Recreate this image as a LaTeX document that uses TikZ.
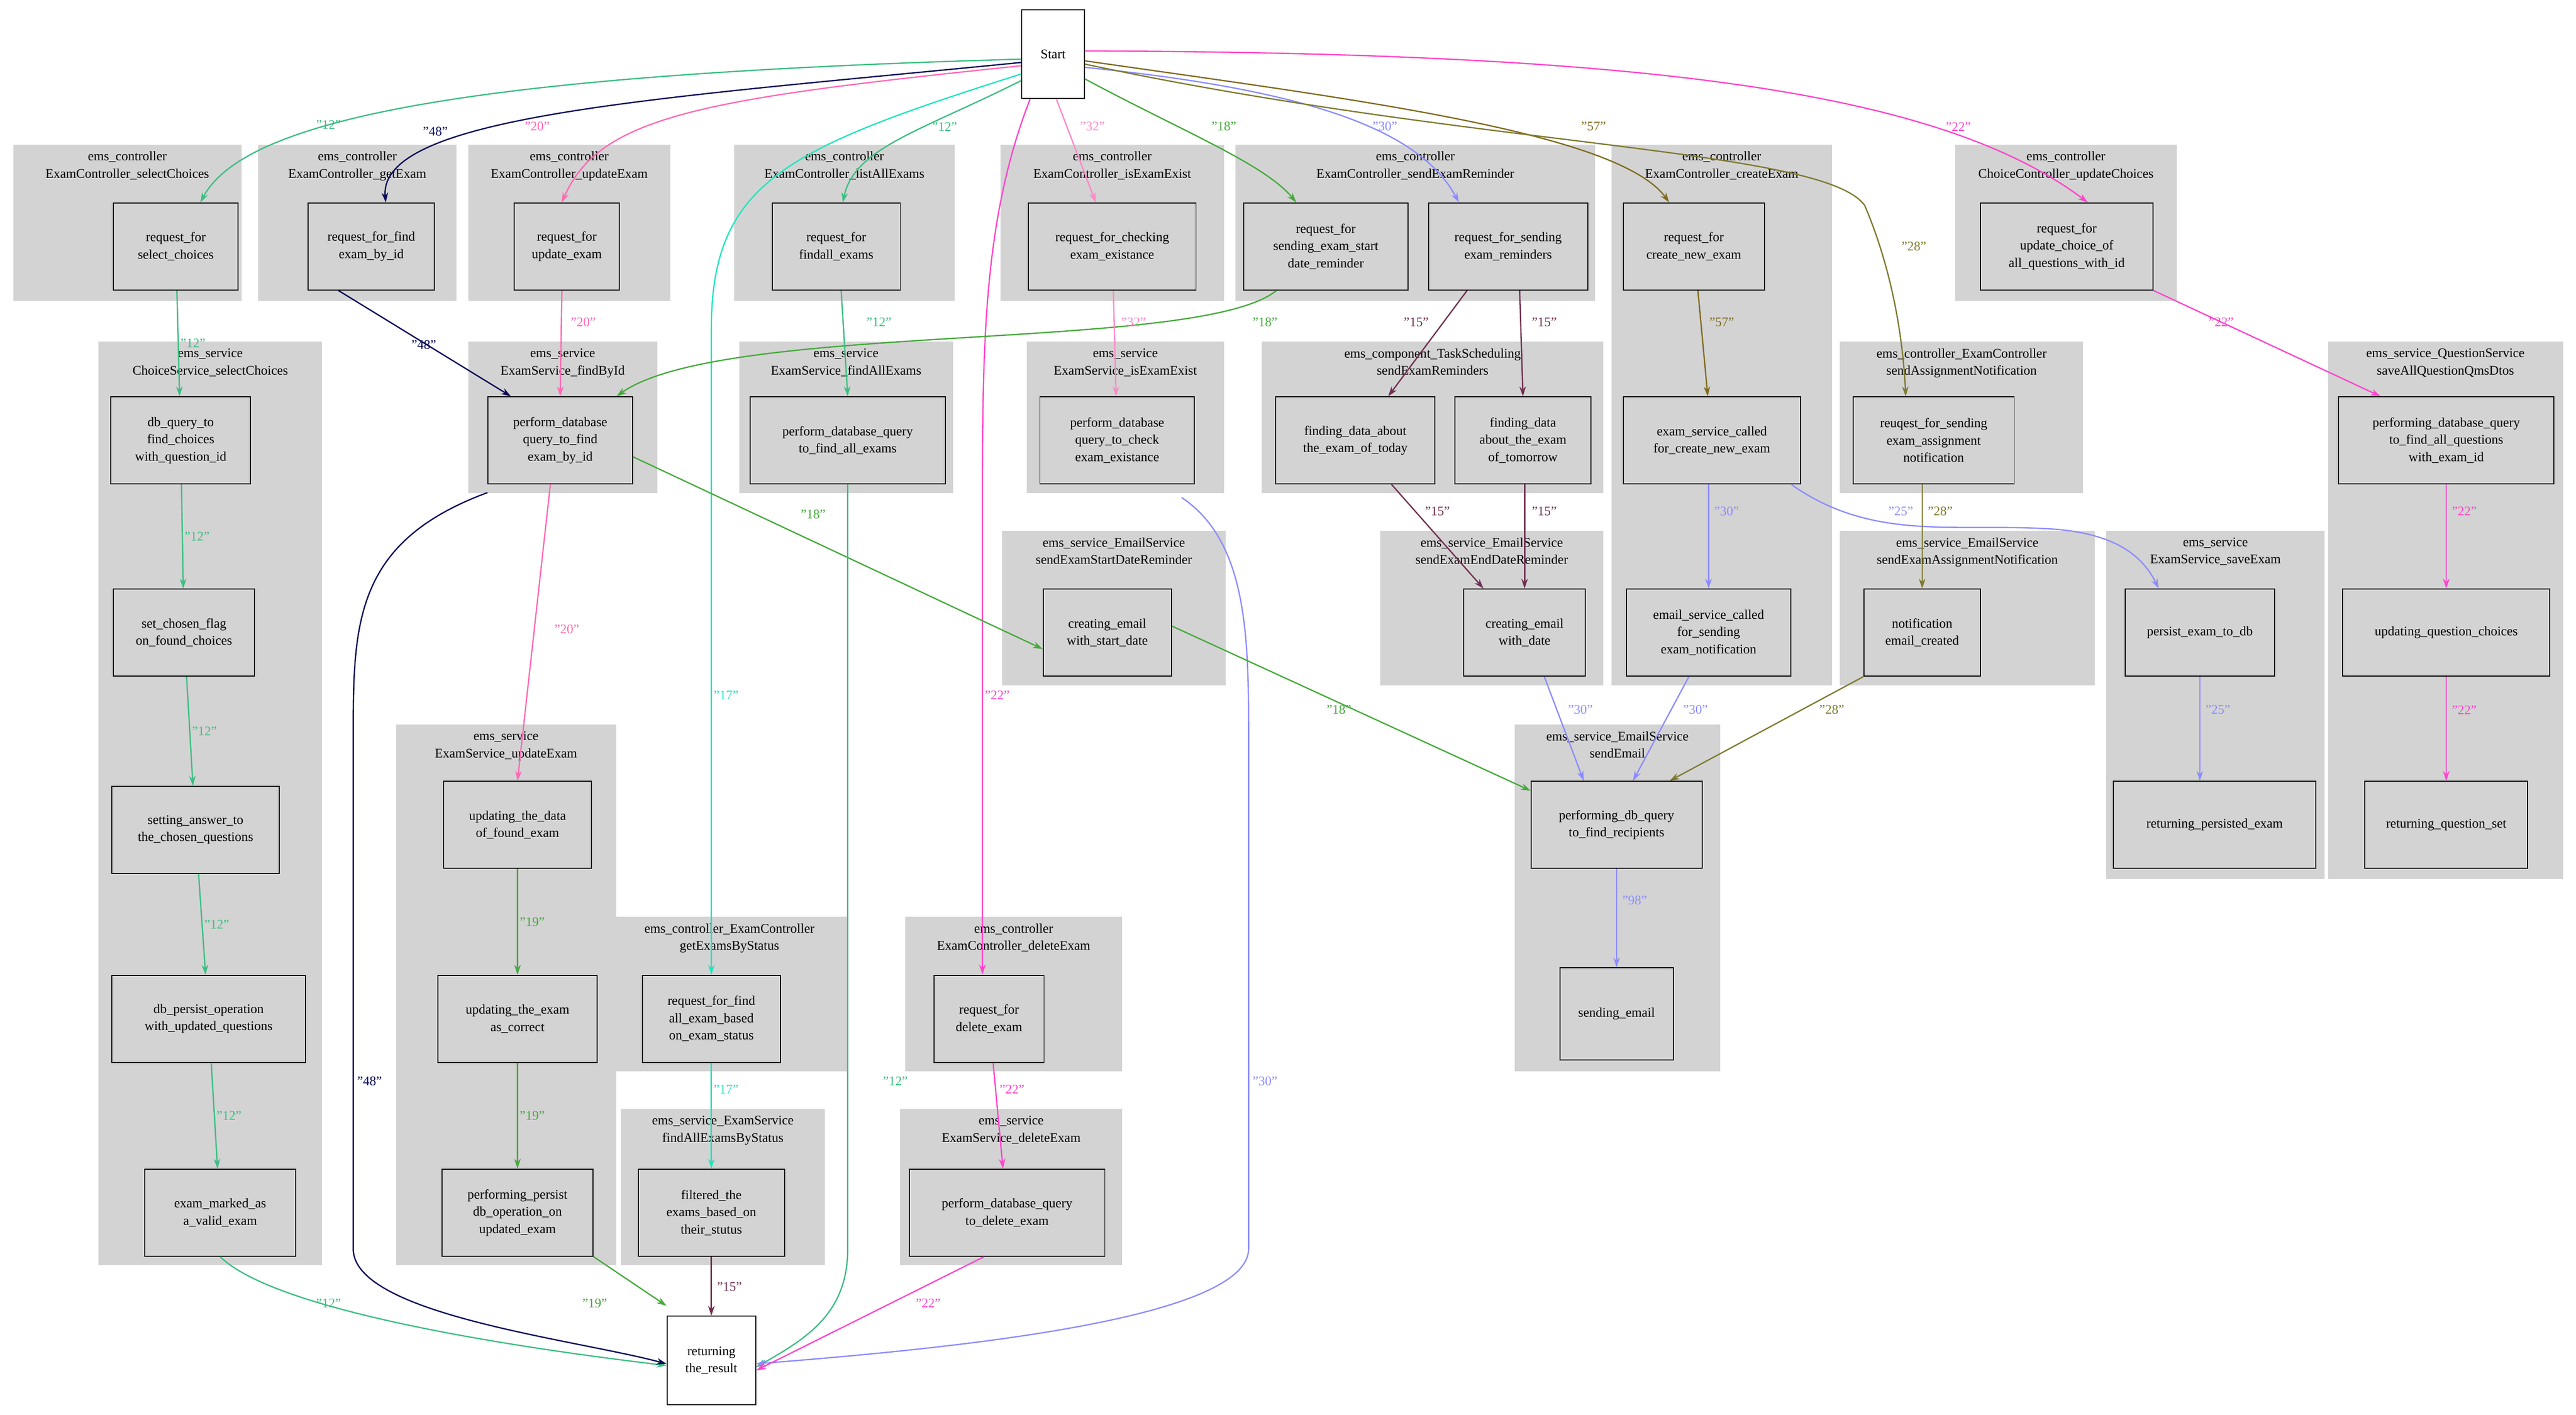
\documentclass[tikz,border=0pt]{standalone}
\usepackage{fontspec}
\setmainfont{Liberation Serif}
\usetikzlibrary{arrows.meta}
\definecolor{cg}{RGB}{211,211,211}
\definecolor{c12}{RGB}{60,190,130}
\definecolor{c48}{RGB}{10,10,90}
\definecolor{c20}{RGB}{255,105,180}
\definecolor{c17}{RGB}{30,230,190}
\definecolor{c18}{RGB}{70,170,60}
\definecolor{c32}{RGB}{255,136,200}
\definecolor{c30}{RGB}{140,140,255}
\definecolor{c57}{RGB}{128,107,32}
\definecolor{c28}{RGB}{128,122,48}
\definecolor{c22}{RGB}{255,68,204}
\definecolor{c15}{RGB}{112,48,80}
\begin{document}
\begin{tikzpicture}[x=1pt,y=-1pt,
 box/.style={draw=black,fill=cg,line width=0.6pt,minimum height=53pt,align=center,inner sep=1pt,font=\fontsize{8}{10.5}\selectfont},
 wbox/.style={box,fill=white},
 clab/.style={anchor=north,align=center,inner sep=1pt,font=\fontsize{8}{10.5}\selectfont},
 e/.style={line width=0.8pt,-{Stealth[length=6pt,width=4pt]}},
 l/.style={font=\fontsize{8}{9}\selectfont,inner sep=1pt}]
\useasboundingbox (0,0) rectangle (1568,861);
% clusters
\def\cl#1#2#3#4#5{\fill[cg] (#1,#2) rectangle (#3,#4); \node[clab] at ({(#1+#3)/2},{#2+3}) {#5};}
\cl{8}{88}{147}{183}{ems\_controller\\ExamController\_selectChoices}
\cl{157}{88}{278}{183}{ems\_controller\\ExamController\_getExam}
\cl{285}{88}{408}{183}{ems\_controller\\ExamController\_updateExam}
\cl{447}{88}{581}{183}{ems\_controller\\ExamController\_listAllExams}
\cl{609}{88}{745}{183}{ems\_controller\\ExamController\_isExamExist}
\cl{752}{88}{971}{183}{ems\_controller\\ExamController\_sendExamReminder}
\cl{981}{88}{1115}{417}{ems\_controller\\ExamController\_createExam}
\cl{1190}{88}{1325}{183}{ems\_controller\\ChoiceController\_updateChoices}
\cl{60}{208}{196}{770}{ems\_service\\ChoiceService\_selectChoices}
\cl{285}{208}{400}{300}{ems\_service\\ExamService\_findById}
\cl{450}{208}{580}{300}{ems\_service\\ExamService\_findAllExams}
\cl{625}{208}{745}{300}{ems\_service\\ExamService\_isExamExist}
\cl{768}{208}{976}{300}{ems\_component\_TaskScheduling\\sendExamReminders}
\cl{1120}{208}{1268}{300}{ems\_controller\_ExamController\\sendAssignmentNotification}
\cl{1417}{208}{1560}{535}{ems\_service\_QuestionService\\saveAllQuestionQmsDtos}
\cl{840}{323}{976}{417}{ems\_service\_EmailService\\sendExamEndDateReminder}
\cl{610}{323}{746}{417}{ems\_service\_EmailService\\sendExamStartDateReminder}
\cl{1120}{323}{1275}{417}{ems\_service\_EmailService\\sendExamAssignmentNotification}
\cl{1282}{323}{1415}{535}{ems\_service\\ExamService\_saveExam}
\cl{922}{441}{1047}{652}{ems\_service\_EmailService\\sendEmail}
\cl{241}{441}{375}{770}{ems\_service\\ExamService\_updateExam}
\cl{372}{558}{516}{652}{ems\_controller\_ExamController\\getExamsByStatus}
\cl{378}{675}{502}{770}{ems\_service\_ExamService\\findAllExamsByStatus}
\cl{551}{558}{683}{652}{ems\_controller\\ExamController\_deleteExam}
\cl{548}{675}{683}{770}{ems\_service\\ExamService\_deleteExam}
% nodes
\node[wbox,minimum width=38pt,minimum height=54pt] (st) at (641,33) {Start};
\node[wbox,minimum width=54pt,minimum height=54pt] (en) at (433,828) {returning\\the\_result};
\node[box,minimum width=76pt] (sel) at (107,150) {request\_for\\select\_choices};
\node[box,minimum width=77pt] (getx) at (226,150) {request\_for\_find\\exam\_by\_id};
\node[box,minimum width=64pt] (upd) at (345,150) {request\_for\\update\_exam};
\node[box,minimum width=78pt] (fall) at (509,150) {request\_for\\findall\_exams};
\node[box,minimum width=102pt] (chk) at (677,150) {request\_for\_checking\\exam\_existance};
\node[box,minimum width=100pt] (srt) at (807,150) {request\_for\\sending\_exam\_start\\date\_reminder};
\node[box,minimum width=97pt] (rem) at (918,150) {request\_for\_sending\\exam\_reminders};
\node[box,minimum width=86pt] (cre) at (1031,150) {request\_for\\create\_new\_exam};
\node[box,minimum width=105pt] (uch) at (1258,150) {request\_for\\update\_choice\_of\\all\_questions\_with\_id};
\node[box,minimum width=85pt] (dbq) at (110,268) {db\_query\_to\\find\_choices\\with\_question\_id};
\node[box,minimum width=88pt] (fbi) at (341,268) {perform\_database\\query\_to\_find\\exam\_by\_id};
\node[box,minimum width=119pt] (fae) at (516,268) {perform\_database\_query\\to\_find\_all\_exams};
\node[box,minimum width=94pt] (iee) at (680,268) {perform\_database\\query\_to\_check\\exam\_existance};
\node[box,minimum width=97pt] (tod) at (825,268) {finding\_data\_about\\the\_exam\_of\_today};
\node[box,minimum width=83pt] (tom) at (927,268) {finding\_data\\about\_the\_exam\\of\_tomorrow};
\node[box,minimum width=108pt] (esc) at (1042,268) {exam\_service\_called\\for\_create\_new\_exam};
\node[box,minimum width=98pt] (ras) at (1177,268) {reuqest\_for\_sending\\exam\_assignment\\notification};
\node[box,minimum width=131pt] (pqa) at (1489,268) {performing\_database\_query\\to\_find\_all\_questions\\with\_exam\_id};
\node[box,minimum width=86pt] (scf) at (112,385) {set\_chosen\_flag\\on\_found\_choices};
\node[box,minimum width=74pt] (ecw) at (928,385) {creating\_email\\with\_date};
\node[box,minimum width=78pt] (csd) at (674,385) {creating\_email\\with\_start\_date};
\node[box,minimum width=100pt] (esn) at (1040,385) {email\_service\_called\\for\_sending\\exam\_notification};
\node[box,minimum width=71pt] (nec) at (1170,385) {notification\\email\_created};
\node[box,minimum width=91pt] (pdb) at (1339,385) {persist\_exam\_to\_db};
\node[box,minimum width=126pt] (uqc) at (1489,385) {updating\_question\_choices};
\node[box,minimum width=102pt] (sa) at (119,505) {setting\_answer\_to\\the\_chosen\_questions};
\node[box,minimum width=90pt] (udf) at (315,502) {updating\_the\_data\\of\_found\_exam};
\node[box,minimum width=104pt] (pdq) at (984,502) {performing\_db\_query\\to\_find\_recipients};
\node[box,minimum width=123pt] (rpe) at (1348,502) {returning\_persisted\_exam};
\node[box,minimum width=99pt] (rqs) at (1489,502) {returning\_question\_set};
\node[box,minimum width=118pt] (dbp) at (127,620) {db\_persist\_operation\\with\_updated\_questions};
\node[box,minimum width=97pt] (ute) at (315,620) {updating\_the\_exam\\as\_correct};
\node[box,minimum width=84pt] (eb) at (433,620) {request\_for\_find\\all\_exam\_based\\on\_exam\_status};
\node[box,minimum width=67pt] (dlx) at (602,620) {request\_for\\delete\_exam};
\node[box,minimum width=69pt,minimum height=56pt] (sem) at (984,617) {sending\_email};
\node[box,minimum width=92pt] (emv) at (134,738) {exam\_marked\_as\\a\_valid\_exam};
\node[box,minimum width=92pt] (ppe) at (315,738) {performing\_persist\\db\_operation\_on\\updated\_exam};
\node[box,minimum width=89pt] (flt) at (433,738) {filtered\_the\\exams\_based\_on\\their\_stutus};
\node[box,minimum width=119pt] (pdd) at (613,738) {perform\_database\_query\\to\_delete\_exam};
% edges from Start
\draw[e,c12] ([yshift=-3pt]st.west) .. controls (300,45) and (150,70) .. ([xshift=15pt]sel.north);
\node[l,text=c12] at (200,76) {"12"};
\draw[e,c48] ([yshift=-5pt]st.west) .. controls (400,60) and (230,70) .. ([xshift=-30pt]getx.north east);
\node[l,text=c48] at (265,80) {"48"};
\draw[e,c20] ([yshift=-7pt]st.west) .. controls (430,60) and (365,70) .. ([xshift=-3pt]upd.north);
\node[l,text=c20] at (327,77) {"20"};
\draw[e,c17] ([yshift=-12pt]st.west) .. controls (480,90) and (433,110) .. (433,200) -- (eb.north);
\node[l,text=c17] at (442,423) {"17"};
\draw[e,c12] ([yshift=-16pt]st.west) .. controls (560,80) and (520,90) .. ([xshift=4pt]fall.north);
\node[l,text=c12] at (575,77) {"12"};
\draw[e,c22] ([xshift=-14pt]st.south) .. controls (600,130) and (598,200) .. (598,300) -- (598,593);
\node[l,text=c22] at (607,423) {"22"};
\draw[e,c32] ([xshift=2pt]st.south) -- ([xshift=-10pt]chk.north);
\node[l,text=c32] at (665,77) {"32"};
\draw[e,c18] ([yshift=-15pt]st.east) .. controls (720,80) and (770,100) .. ([xshift=-18pt]srt.north);
\node[l,text=c18] at (745,77) {"18"};
\draw[e,c30] ([yshift=-8pt]st.east) .. controls (800,55) and (865,80) .. ([xshift=-30pt]rem.north);
\node[l,text=c30] at (843,77) {"30"};
\draw[e,c57] ([yshift=-4pt]st.east) .. controls (820,60) and (985,80) .. ([xshift=-15pt]cre.north);
\node[l,text=c57] at (970,77) {"57"};
\draw[e,c28] ([yshift=-6pt]st.east) .. controls (900,90) and (1110,90) .. (1135,125) .. controls (1150,160) and (1158,200) .. ([xshift=-17pt]ras.north);
\node[l,text=c28] at (1165,150) {"28"};
\draw[e,c22] ([yshift=2pt]st.east) .. controls (1000,32) and (1180,55) .. ([xshift=-40pt]uch.north east);
\node[l,text=c22] at (1192,77) {"22"};
% select chain
\draw[e,c12] (sel) -- (dbq) node[l,midway,right,text=c12] {"12"};
\draw[e,c12] (dbq) -- (scf) node[l,midway,right,text=c12] {"12"};
\draw[e,c12] (scf) -- (sa) node[l,midway,right,text=c12] {"12"};
\draw[e,c12] (sa) -- (dbp) node[l,midway,right,text=c12] {"12"};
\draw[e,c12] (dbp) -- (emv) node[l,midway,right,text=c12] {"12"};
\draw[e,c12] (emv.south) .. controls (170,800) and (330,822) .. ([yshift=-3pt]en.west);
\node[l,text=c12] at (200,793) {"12"};
% getExam / findById
\draw[e,c48] ([xshift=-20pt]getx.south) -- ([xshift=-30pt]fbi.north);
\node[l,text=c48] at (258,210) {"48"};
\draw[e,c20] ([xshift=-3pt]upd.south) -- (fbi.north);
\node[l,text=c20] at (355,196) {"20"};
\draw[e,c18] ([xshift=-30pt]srt.south) .. controls (730,215) and (440,195) .. ([xshift=-10pt]fbi.north east);
\node[l,text=c18] at (770,196) {"18"};
\draw[e,c48] ([yshift=-5pt]fbi.south west) .. controls (215,330) and (215,380) .. (215,450) -- (215,760) .. controls (215,800) and (350,815) .. ([yshift=-2pt]en.west);
\node[l,text=c48] at (225,658) {"48"};
\draw[e,c18] ([yshift=-10pt]fbi.east) -- ([yshift=-10pt]csd.west);
\node[l,text=c18] at (495,313) {"18"};
\draw[e,c20] ([xshift=-6pt]fbi.south) -- (udf.north);
\node[l,text=c20] at (345,383) {"20"};
% updateExam chain
\draw[e,c18] (udf) -- (ute) node[l,midway,right,text=c18] {"19"};
\draw[e,c18] (ute) -- (ppe) node[l,midway,right,text=c18] {"19"};
\draw[e,c18] (ppe.south east) -- ([yshift=6pt]en.north west);
\node[l,text=c18] at (362,793) {"19"};
% findAll
\draw[e,c12] ([xshift=3pt]fall.south) -- (fae.north);
\node[l,text=c12] at (535,196) {"12"};
\draw[e,c12] (fae.south) -- (516,760) .. controls (516,800) and (490,815) .. ([yshift=-4pt]en.east);
\node[l,text=c12] at (545,658) {"12"};
% isExamExist
\draw[e,c32] (chk) -- (iee);
\node[l,text=c32] at (690,196) {"32"};
\draw[e,c30] ([xshift=-8pt,yshift=-8pt]iee.south east) .. controls (760,330) and (760,390) .. (760,450) -- (760,760) .. controls (760,805) and (560,822) .. ([yshift=-2pt]en.east);
\node[l,text=c30] at (770,658) {"30"};
% byStatus and delete
\draw[e,c17] (eb) -- (flt);
\node[l,text=c17] at (442,663) {"17"};
\draw[e,c15] (flt) -- (en);
\node[l,text=c15] at (444,783) {"15"};
\draw[e,c22] (dlx) -- (pdd);
\node[l,text=c22] at (616,663) {"22"};
\draw[e,c22] ([xshift=-14pt]pdd.south) -- ([yshift=-6pt]en.east);
\node[l,text=c22] at (565,793) {"22"};
% reminders
\draw[e,c15] ([xshift=-25pt]rem.south) -- ([xshift=20pt]tod.north);
\node[l,text=c15] at (862,196) {"15"};
\draw[e,c15] ([xshift=7pt]rem.south) -- (tom.north);
\node[l,text=c15] at (940,196) {"15"};
\draw[e,c15] ([xshift=22pt]tod.south) -- ([xshift=-25pt]ecw.north);
\node[l,text=c15] at (875,311) {"15"};
\draw[e,c15] ([xshift=1pt]tom.south) -- (ecw.north);
\node[l,text=c15] at (940,311) {"15"};
\draw[e,c30] ([xshift=12pt]ecw.south) -- ([xshift=-20pt]pdq.north);
\node[l,text=c30] at (962,432) {"30"};
\draw[e,c30] ([xshift=-12pt]esn.south) -- ([xshift=10pt]pdq.north);
\node[l,text=c30] at (1032,432) {"30"};
\draw[e,c18] ([yshift=4pt]csd.east) -- ([yshift=-6pt]pdq.north west);
\node[l,text=c18] at (815,432) {"18"};
\draw[e,c28] (nec.south west) -- ([xshift=-20pt]pdq.north east);
\node[l,text=c28] at (1115,432) {"28"};
\draw[e,c30] (pdq) -- (sem);
\node[l,text=c30] at (995,548) {"98"};
% createExam
\draw[e,c57] (cre) -- (esc);
\node[l,text=c57] at (1048,196) {"57"};
\draw[e,c30] ([xshift=-2pt]esc.south) -- (esn.north);
\node[l,text=c30] at (1051,311) {"30"};
\draw[e,c30] ([xshift=-6pt]esc.south east) .. controls (1140,330) and (1190,318) .. (1250,322) .. controls (1290,325) and (1305,340) .. ([xshift=-25pt]pdb.north);
\node[l,text=c30] at (1157,311) {"25"};
\draw[e,c28] ([xshift=-7pt]ras.south) -- ([xshift=0pt]nec.north);
\node[l,text=c28] at (1181,311) {"28"};
\draw[e,c30] (pdb) -- (rpe.north -| pdb);
\node[l,text=c30] at (1350,432) {"25"};
% question service
\draw[e,c22] (uch.south east) -- ([xshift=-40pt]pqa.north);
\node[l,text=c22] at (1352,196) {"22"};
\draw[e,c22] (pqa) -- (uqc);
\node[l,text=c22] at (1500,311) {"22"};
\draw[e,c22] (uqc) -- (rqs);
\node[l,text=c22] at (1500,432) {"22"};
\end{tikzpicture}
\end{document}
